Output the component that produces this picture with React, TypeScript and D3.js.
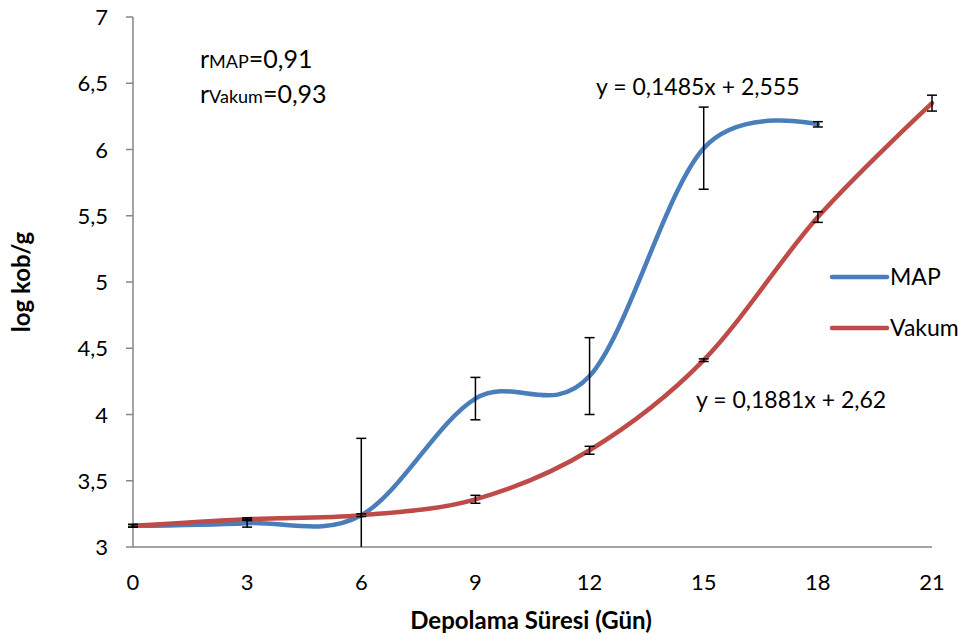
import React from "react";
import * as d3 from "d3";

const days = [0, 3, 6, 9, 12, 15, 18, 21];
const mapValues = [3.16, 3.18, 3.24, 4.12, 4.29, 6.01, 6.19];
const mapErrors = [0.01, 0.03, 0.58, 0.16, 0.29, 0.31, 0.02];
const vakumValues = [3.16, 3.21, 3.24, 3.36, 3.73, 4.41, 5.49, 6.35];
const vakumErrors = [0.01, 0.01, 0.01, 0.03, 0.03, 0.01, 0.04, 0.06];
const yTicks = [3, 3.5, 4, 4.5, 5, 5.5, 6, 6.5, 7];
const xTicks = [0, 3, 6, 9, 12, 15, 18, 21];

const W = 966;
const H = 639;
const margin = { top: 17, right: 34, bottom: 92, left: 133 };
const FONT = "Lato, 'Open Sans', sans-serif";

const fmt = (v: number) => String(v).replace(".", ",");

const App = () => {
  const x = d3.scaleLinear().domain([0, 21]).range([margin.left, W - margin.right]);
  const y = d3.scaleLinear().domain([3, 7]).range([H - margin.bottom, margin.top]);

  const line = d3
    .line<number>()
    .x((_, i) => x(days[i]))
    .y((d) => y(d))
    .curve(d3.curveCardinal.tension(0));

  const series = [
    { name: "MAP", values: mapValues, errors: mapErrors, color: "#4a7ebb" },
    { name: "Vakum", values: vakumValues, errors: vakumErrors, color: "#be4b48" },
  ];

  const y0 = y(3);

  return (
    <svg width={W} height={H} style={{ display: "block", position: "absolute", left: 0, top: 0 }} fontFamily={FONT}>
      <rect width={W} height={H} fill="#fff" />
      {/* axes */}
      <line x1={x(0)} x2={x(0)} y1={y(7)} y2={y0} stroke="#868686" strokeWidth={1.5} />
      <line x1={x(0)} x2={x(21)} y1={y0} y2={y0} stroke="#868686" strokeWidth={1.5} />
      {yTicks.map((t) => (
        <g key={t}>
          <line x1={x(0) - 7} x2={x(0)} y1={y(t)} y2={y(t)} stroke="#868686" strokeWidth={1.5} />
          <text x={x(0) - 25} y={y(t) + 8} textAnchor="end" fontSize={22} fill="#000">
            {fmt(t)}
          </text>
        </g>
      ))}
      {xTicks.map((t) => (
        <text key={t} x={x(t)} y={y0 + 43} textAnchor="middle" fontSize={22} fill="#000">
          {t}
        </text>
      ))}
      {/* lines */}
      {series.map((s) => (
        <path key={s.name} d={line(s.values) || ""} fill="none" stroke={s.color} strokeWidth={4.5} strokeLinecap="round" />
      ))}
      {/* error bars */}
      {series.map((s) =>
        s.values.map((v, i) => {
          const top = y(Math.min(7, v + s.errors[i]));
          const bot = y(Math.max(3, v - s.errors[i]));
          const cx = x(days[i]);
          return (
            <g key={s.name + i} stroke="#000" strokeWidth={1.5}>
              <line x1={cx} x2={cx} y1={top} y2={bot} />
              <line x1={cx - 5} x2={cx + 5} y1={top} y2={top} />
              {v - s.errors[i] >= 3 && <line x1={cx - 5} x2={cx + 5} y1={bot} y2={bot} />}
            </g>
          );
        })
      )}
      {/* annotations */}
      <text x={200} y={68} fontSize={25} fill="#000">
        r<tspan fontSize={18}>MAP</tspan>=0,91
      </text>
      <text x={200} y={103} fontSize={25} fill="#000">
        r<tspan fontSize={18}>Vakum</tspan>=0,93
      </text>
      <text x={596} y={95} fontSize={23} fill="#000">y = 0,1485x + 2,555</text>
      <text x={696} y={408} fontSize={23} fill="#000">y = 0,1881x + 2,62</text>
      {/* legend */}
      {series.map((s, i) => (
        <g key={s.name} transform={`translate(832, ${277 + i * 51})`}>
          <line x1={0} x2={55} y1={0} y2={0} stroke={s.color} strokeWidth={4.5} strokeLinecap="round" />
          <text x={58} y={8} fontSize={23} fill="#000">{s.name}</text>
        </g>
      ))}
      {/* titles */}
      <text x={531} y={629} textAnchor="middle" fontSize={24} fontWeight="bold" fill="#000">
        Depolama Süresi (Gün)
      </text>
      <text transform={`translate(30, ${y(5)}) rotate(-90)`} textAnchor="middle" fontSize={24} fontWeight="bold" fill="#000">
        log kob/g
      </text>
    </svg>
  );
};

export default App;
